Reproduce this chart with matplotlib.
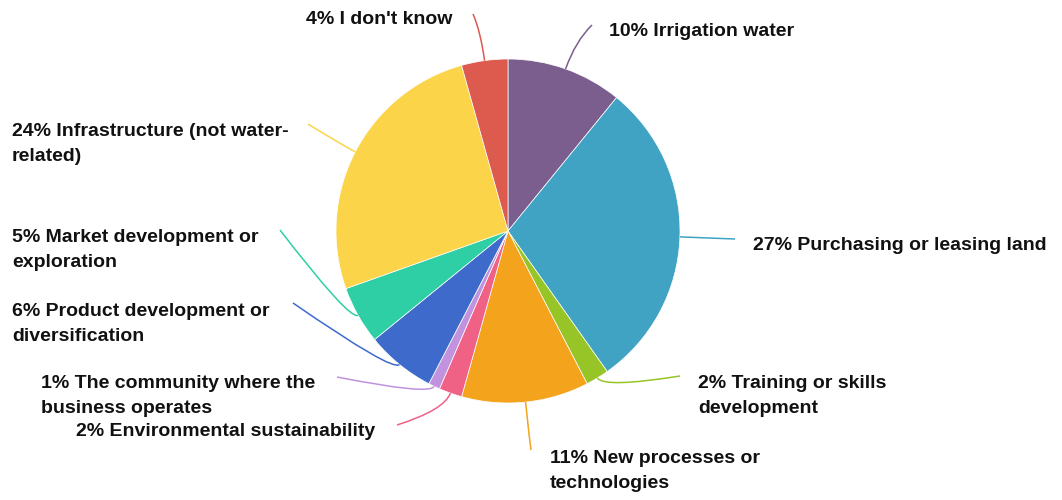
import numpy as np
import matplotlib
matplotlib.use("Agg")
import matplotlib.pyplot as plt
from matplotlib.path import Path
from matplotlib.patches import PathPatch

# survey shares (%), clockwise from 12 o'clock
labels = ["Irrigation water", "Purchasing or leasing land", "Training or skills\ndevelopment",
          "New processes or\ntechnologies", "Environmental sustainability",
          "The community where the\nbusiness operates", "Product development or\ndiversification",
          "Market development or\nexploration", "Infrastructure (not water-\nrelated)", "I don't know"]
values = [10, 27, 2, 11, 2, 1, 6, 5, 24, 4]
colors = ["#7b5e8e", "#41a3c4", "#97c527", "#f4a31c", "#ef6185",
          "#c193de", "#3e6bcb", "#2ecfa5", "#fbd44a", "#dd5a4f"]

# label layout in pixels: text x, text y, ha, leader end x, leader end y, elbow distance
layout = [
    (609, 32, "left", 592, 25, 30),
    (753, 245, "left", 735, 239, 0),
    (698, 396, "left", 680, 376, 12),
    (550, 471, "left", 531, 450, 38),
    (375, 431, "right", 397, 425, 18),
    (315, 396, "right", 337, 377, 10),
    (12, 324, "left", 293, 303, 10),
    (12, 250, "left", 280, 230, 10),
    (12, 144, "left", 308, 124, 15),
    (452, 20, "right", 473, 14, 30),
]

W, H = 1062, 500
cx, cy, r = 508, 231, 172

plt.rcParams['font.family'] = ['Liberation Sans', 'DejaVu Sans']
fig = plt.figure(figsize=(W / 100, H / 100), dpi=100)
ax = fig.add_axes([0, 0, 1, 1])

wedges, _ = ax.pie(values, colors=colors, startangle=90, counterclock=False,
                   center=(cx, H - cy), radius=r,
                   wedgeprops=dict(edgecolor="white", linewidth=0.5))

for w, lab, v, (tx, ty, ha, ex, ey, d), col in zip(wedges, labels, values, layout, colors):
    mid = np.deg2rad((w.theta1 + w.theta2) / 2)
    sx, sy = cx + r * np.cos(mid), (H - cy) + r * np.sin(mid)
    kx, ky = cx + (r + d) * np.cos(mid), (H - cy) + (r + d) * np.sin(mid)
    path = Path([(sx, sy), (kx, ky), (ex, H - ey)], [Path.MOVETO, Path.CURVE3, Path.CURVE3])
    ax.add_patch(PathPatch(path, facecolor="none", edgecolor=col, linewidth=1.1))
    ax.text(tx, H - ty, f"{v}% {lab}", ha=ha, va="center", multialignment="left",
            fontsize=14, fontweight="bold", color="#111111", linespacing=1.55)

ax.set_xlim(0, W)
ax.set_ylim(0, H)
ax.set_aspect("auto")
ax.axis("off")

fig.savefig("out.png", dpi=100, facecolor="white")
